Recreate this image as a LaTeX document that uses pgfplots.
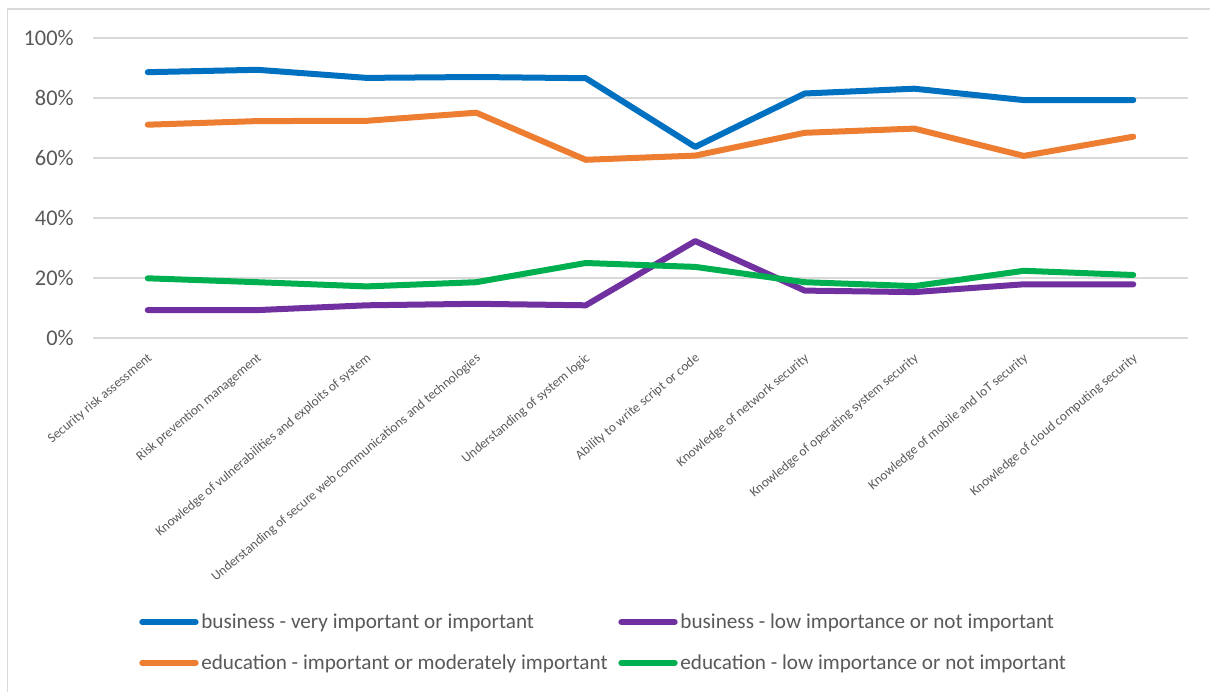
\documentclass[border=0pt]{standalone}
\usepackage{pgfplots}
\pgfplotsset{compat=1.18}
\usepackage{fontspec}
\setmainfont{Carlito}
\definecolor{cblue}{HTML}{0070C0}
\definecolor{corange}{HTML}{ED7D31}
\definecolor{cpurple}{HTML}{7030A0}
\definecolor{cgreen}{HTML}{00B050}
\definecolor{cgrid}{HTML}{D9D9D9}
\definecolor{ctext}{HTML}{595959}
\begin{document}
\begin{tikzpicture}
\begin{axis}[
  scale only axis,
  width=821.25pt, height=225pt,
  xmin=-0.5, xmax=9.5, ymin=0, ymax=100,
  axis line style={draw=none},
  tick style={draw=none},
  major tick length=0pt,
  ymajorgrids, grid style={cgrid, line width=1.3pt},
  ytick={0,20,40,60,80,100},
  yticklabels={0\%,20\%,40\%,60\%,80\%,100\%},
  yticklabel style={font=\fontsize{16.8}{18}\selectfont, text=ctext, anchor=east, xshift=-11pt},
  xtick={0,...,9},
  xticklabels={Security risk assessment, Risk prevention management, Knowledge of vulnerabilities and exploits of system, Understanding of secure web communications and technologies, Understanding of system logic, Ability to write script or code, Knowledge of network security, Knowledge of operating system security, Knowledge of mobile and IoT security, Knowledge of cloud computing security},
  xticklabel style={font=\fontsize{10}{12}\selectfont, text=ctext, rotate=40, anchor=east, yshift=-12pt, xshift=-4pt},
  /pgf/number format/assume math mode=true,
  clip=false,
  every axis plot/.append style={line width=4.5pt, line join=round, line cap=round},
  legend columns=2,
  legend cell align=left,
  legend image code/.code={\draw[#1, line cap=round] (0pt,0pt) -- (40pt,0pt);},
  legend style={at={(0.4667,-1.015)}, anchor=center, draw=none, fill=none,
    font=\fontsize{15.9}{18}\selectfont, text=ctext,
    /tikz/every odd column/.append style={column sep=0pt},
    /tikz/every even column/.append style={column sep=6pt},
    row sep=14pt},
]
\addplot[cblue] coordinates {(0,88.6) (1,89.4) (2,86.7) (3,87.0) (4,86.6) (5,63.7) (6,81.5) (7,83.1) (8,79.3) (9,79.3)};
\addlegendentry{business - very important or important}
\addplot[cpurple] coordinates {(0,9.3) (1,9.3) (2,10.9) (3,11.4) (4,10.9) (5,32.3) (6,15.8) (7,15.3) (8,17.9) (9,17.9)};
\addlegendentry{business - low importance or not important}
\addplot[corange] coordinates {(0,71.1) (1,72.3) (2,72.4) (3,75.1) (4,59.4) (5,60.8) (6,68.4) (7,69.8) (8,60.7) (9,67.1)};
\addlegendentry{education - important or moderately important}
\addplot[cgreen] coordinates {(0,19.9) (1,18.6) (2,17.2) (3,18.6) (4,25.0) (5,23.7) (6,18.6) (7,17.3) (8,22.4) (9,21.0)};
\addlegendentry{education - low importance or not important}
\end{axis}
\useasboundingbox ([xshift=-69.75pt, yshift=-264.75pt]current axis.south west) rectangle ([xshift=16.5pt, yshift=28.5pt]current axis.north east);
\draw[cgrid, line width=1pt] ([xshift=-64.1pt, yshift=-270pt]current axis.south west) -- ([xshift=-64.1pt, yshift=21.75pt]current axis.north west) -- ([xshift=30pt, yshift=21.75pt]current axis.north east);
\end{tikzpicture}
\end{document}
